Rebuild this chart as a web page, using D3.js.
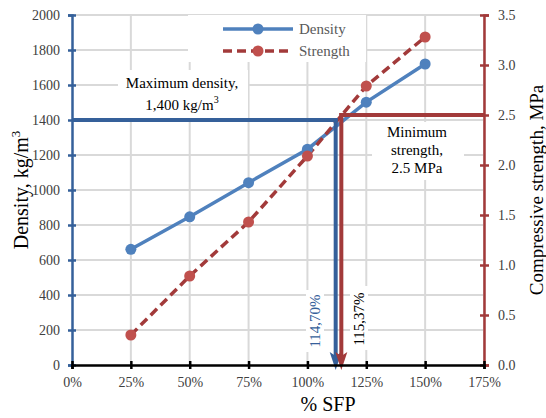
<!DOCTYPE html>
<html>
<head>
<meta charset="utf-8">
<script src="https://cdn.jsdelivr.net/npm/d3@7"></script>
<style>
  body { margin: 0; background: #fff; }
</style>
</head>
<body>
<svg id="chart" width="546" height="418"></svg>
<script>
// data
const sfp = [25, 50, 75, 100, 125, 150];
const density = [661, 847, 1042, 1233, 1502, 1720];
const strength = [0.30, 0.89, 1.43, 2.09, 2.79, 3.28];
const xTicks = [0, 25, 50, 75, 100, 125, 150, 175];
const densityTicks = [0, 200, 400, 600, 800, 1000, 1200, 1400, 1600, 1800, 2000];
const strengthTicks = [0, 0.5, 1.0, 1.5, 2.0, 2.5, 3.0, 3.5];

// threshold annotations
const maxDensity = 1400;
const minStrength = 2.5;
const densityCut = 112.0;   // where the drawn blue arrow sits
const strengthCut = 114.4;  // where the drawn red arrow sits
const densityCutLabel = '114,70%';
const strengthCutLabel = '115,37%';

const FONT = 'Liberation Serif';

const svg = d3.select('svg#chart').attr('font-family', FONT);

const x = d3.scaleLinear().domain([0, 175]).range([72, 484]);
const yL = d3.scaleLinear().domain([0, 2000]).range([365, 15]);
const yR = d3.scaleLinear().domain([0, 3.5]).range([365, 15]);

const BLUE = '#4F81BD';
const DARK_BLUE = '#35609A';
const RED_LINE = '#A23A3A';
const RED_DOT = '#C0504D';
const TICK_TEXT = '#404040';

// gridlines
svg.append('g')
  .selectAll('line')
  .data(xTicks.slice(1))
  .enter()
  .append('line')
  .attr('x1', (d) => x(d)).attr('x2', (d) => x(d))
  .attr('y1', yL(0)).attr('y2', yL(2000))
  .attr('stroke', '#D9D9D9').attr('stroke-width', 2);

svg.append('g')
  .selectAll('line')
  .data(densityTicks.slice(1))
  .enter()
  .append('line')
  .attr('x1', x(0)).attr('x2', x(175))
  .attr('y1', (d) => yL(d)).attr('y2', (d) => yL(d))
  .attr('stroke', '#D9D9D9').attr('stroke-width', 2);

// white boxes behind the text blocks
const boxes = [
  [188, 15, 178, 47],   // legend
  [118, 70, 130, 48],   // maximum density
  [372, 122, 92, 58],   // minimum strength
  [306, 290, 18, 62],   // 114,70%
  [350, 286, 18, 64]    // 115,37%
];
svg.append('g')
  .selectAll('rect')
  .data(boxes)
  .enter()
  .append('rect')
  .attr('x', (d) => d[0]).attr('y', (d) => d[1])
  .attr('width', (d) => d[2]).attr('height', (d) => d[3])
  .attr('fill', '#fff');

// series
const densityData = sfp.map((v, i) => ({ x: v, y: density[i] }));
const strengthData = sfp.map((v, i) => ({ x: v, y: strength[i] }));

svg.append('path')
  .attr('d', d3.line().x((d) => x(d.x)).y((d) => yL(d.y))(densityData))
  .attr('fill', 'none')
  .attr('stroke', BLUE)
  .attr('stroke-width', 3.5);

svg.append('path')
  .attr('d', d3.line().x((d) => x(d.x)).y((d) => yR(d.y))(strengthData))
  .attr('fill', 'none')
  .attr('stroke', RED_LINE)
  .attr('stroke-width', 3.5)
  .attr('stroke-dasharray', '9,5');

svg.append('g')
  .selectAll('circle')
  .data(densityData)
  .enter()
  .append('circle')
  .attr('cx', (d) => x(d.x)).attr('cy', (d) => yL(d.y))
  .attr('r', 5.5).attr('fill', BLUE);

svg.append('g')
  .selectAll('circle')
  .data(strengthData)
  .enter()
  .append('circle')
  .attr('cx', (d) => x(d.x)).attr('cy', (d) => yR(d.y))
  .attr('r', 5.5).attr('fill', RED_DOT);

// threshold lines + arrows
svg.append('line')
  .attr('x1', x(0)).attr('x2', x(densityCut) + 2)
  .attr('y1', yL(maxDensity)).attr('y2', yL(maxDensity))
  .attr('stroke', DARK_BLUE).attr('stroke-width', 4);

svg.append('line')
  .attr('x1', x(strengthCut) - 2).attr('x2', x(175))
  .attr('y1', yR(minStrength)).attr('y2', yR(minStrength))
  .attr('stroke', RED_LINE).attr('stroke-width', 4);

const arrow = (xv, yTop, color) => {
  const px = x(xv);
  svg.append('line')
    .attr('x1', px).attr('x2', px)
    .attr('y1', yTop).attr('y2', 356)
    .attr('stroke', color).attr('stroke-width', 4);
  svg.append('path')
    .attr('d', `M${px - 6},352 L${px},356 L${px + 6},352 L${px},370 Z`)
    .attr('fill', color);
};
arrow(densityCut, yL(maxDensity) - 2, DARK_BLUE);
arrow(strengthCut, yR(minStrength) - 2, RED_LINE);

// axes
const styleTicks = (g) => g.selectAll('text')
  .attr('font-size', 14).attr('fill', TICK_TEXT).attr('font-family', FONT);

const axisLeft = svg.append('g')
  .attr('transform', `translate(${x(0)},0)`)
  .call(d3.axisLeft(yL).tickValues(densityTicks).tickFormat(d3.format('d')).tickSize(4).tickPadding(8));
axisLeft.attr('font-family', FONT);
axisLeft.select('.domain').attr('stroke', DARK_BLUE).attr('stroke-width', 2.5);
axisLeft.selectAll('.tick line').attr('stroke', DARK_BLUE).attr('stroke-width', 2.5)
  .attr('x1', 4);
styleTicks(axisLeft);

const axisRight = svg.append('g')
  .attr('transform', `translate(${x(175)},0)`)
  .call(d3.axisRight(yR).tickValues(strengthTicks).tickFormat(d3.format('.1f')).tickSize(5).tickPadding(9));
axisRight.attr('font-family', FONT);
axisRight.select('.domain').attr('stroke', RED_LINE).attr('stroke-width', 2.5);
axisRight.selectAll('.tick line').attr('stroke', RED_LINE).attr('stroke-width', 2.5)
  .attr('x1', -4);
styleTicks(axisRight);

const axisBottom = svg.append('g')
  .attr('transform', `translate(0,${yL(0)})`)
  .call(d3.axisBottom(x).tickValues(xTicks).tickFormat((d) => `${d}%`).tickSize(4).tickPadding(8));
axisBottom.attr('font-family', FONT);
axisBottom.select('.domain').attr('stroke', '#000').attr('stroke-width', 2.5);
axisBottom.selectAll('.tick line').attr('stroke', '#000').attr('stroke-width', 2.5)
  .attr('y1', -4);
styleTicks(axisBottom);

// axis titles
svg.append('text')
  .attr('transform', 'translate(28,190) rotate(-90)')
  .attr('text-anchor', 'middle')
  .attr('font-size', 20)
  .attr('fill', '#000')
  .html('Density, kg/m<tspan font-size="13" dy="-8">3</tspan>');

svg.append('text')
  .attr('transform', 'translate(543,190) rotate(-90)')
  .attr('text-anchor', 'middle')
  .attr('font-size', 19)
  .attr('fill', '#000')
  .text('Compressive strength, MPa');

svg.append('text')
  .attr('x', 328).attr('y', 411)
  .attr('text-anchor', 'middle')
  .attr('font-size', 20)
  .attr('fill', '#000')
  .text('% SFP');

// legend
const legend = [
  { name: 'Density', line: BLUE, dot: BLUE, dash: null, y: 29 },
  { name: 'Strength', line: RED_LINE, dot: RED_DOT, dash: '9,5', y: 51 }
];
const lg = svg.append('g').selectAll('g').data(legend).enter().append('g');
lg.append('line')
  .attr('x1', 223).attr('x2', 293)
  .attr('y1', (d) => d.y).attr('y2', (d) => d.y)
  .attr('stroke', (d) => d.line).attr('stroke-width', 3.5)
  .attr('stroke-dasharray', (d) => d.dash);
lg.append('circle')
  .attr('cx', 258).attr('cy', (d) => d.y).attr('r', 5.5)
  .attr('fill', (d) => d.dot);
lg.append('text')
  .attr('x', 299).attr('y', (d) => d.y + 5)
  .attr('font-size', 15).attr('fill', '#595959')
  .text((d) => d.name);

// annotation text
svg.append('text')
  .attr('x', 182).attr('y', 88)
  .attr('text-anchor', 'middle').attr('font-size', 15).attr('fill', '#000')
  .text('Maximum density,');
svg.append('text')
  .attr('x', 182).attr('y', 110)
  .attr('text-anchor', 'middle').attr('font-size', 15).attr('fill', '#000')
  .html('1,400 kg/m<tspan font-size="10" dy="-7">3</tspan>');

const minLines = ['Minimum', 'strength,', '2.5 MPa'];
svg.append('g')
  .selectAll('text')
  .data(minLines)
  .enter()
  .append('text')
  .attr('x', 417).attr('y', (d, i) => 137 + i * 18)
  .attr('text-anchor', 'middle').attr('font-size', 15).attr('fill', '#000')
  .text((d) => d);

svg.append('text')
  .attr('transform', 'translate(320,321) rotate(-90)')
  .attr('text-anchor', 'middle').attr('font-size', 15).attr('fill', DARK_BLUE)
  .text(densityCutLabel);
svg.append('text')
  .attr('transform', 'translate(364,319) rotate(-90)')
  .attr('text-anchor', 'middle').attr('font-size', 15).attr('fill', '#000')
  .text(strengthCutLabel);
</script>
</body>
</html>
